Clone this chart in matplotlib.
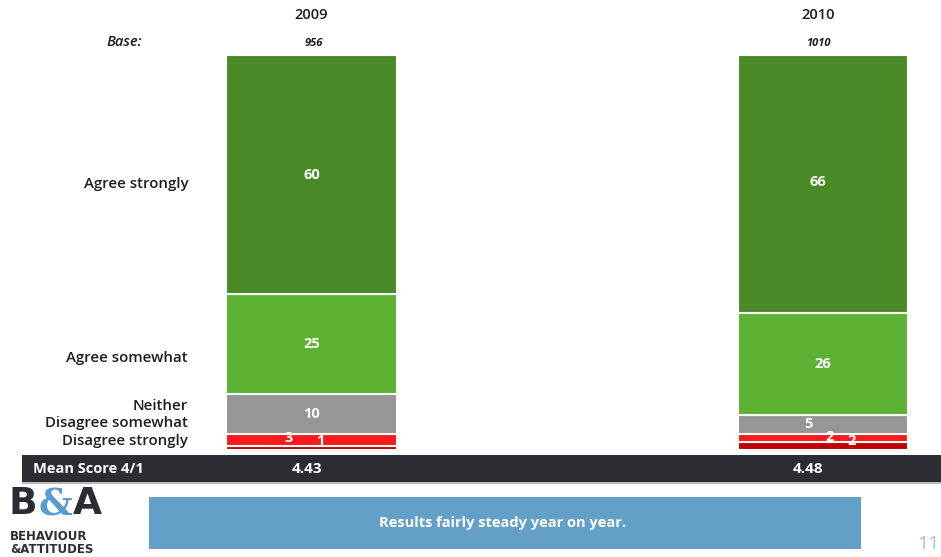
import matplotlib
matplotlib.use("Agg")
import matplotlib.pyplot as plt
import numpy as np
from matplotlib.patches import Rectangle

plt.rcParams['font.family'] = ['Open Sans', 'DejaVu Sans']

years = ["2009", "2010"]
bases = ["956", "1010"]
categories = ["Disagree strongly", "Disagree somewhat", "Neither", "Agree somewhat", "Agree strongly"]
values_2009 = [1, 3, 10, 25, 60]
values_2010 = [2, 2, 5, 26, 66]
mean_scores = ["4.43", "4.48"]
seg_colors = ["#C00000", "#F91B1B", "#969696", "#5DB233", "#4A8A26"]

W, H = 941, 557
fig = plt.figure(figsize=(W / 100, H / 100), dpi=100)

def fx(px):
    return px / W

def fy(py):
    return 1 - py / H

TXT = '#1E1E1E'

# Bars axes
ax = fig.add_axes([0, fy(450), 1, fy(55) - fy(450)])
ax.set_xlim(-0.609, 1.2307)
ax.set_ylim(0, 100)
ax.axis('off')

data = np.array([values_2009, values_2010], dtype=float)
shares = data / data.sum(axis=1, keepdims=True) * 100
xpos = np.arange(len(years))
bw = 0.334
bottoms = np.zeros(len(years))
label_offsets = {  # small x/y nudges for tiny segments (axis units)
    (0, 0): (0.017, 1.9), (0, 1): (-0.045, 0.5),
    (1, 0): (0.055, 1.3), (1, 1): (0.012, 0.4), (1, 2): (-0.029, 0.25),
    (1, 4): (-0.01, 0.5),
}
for j, cat in enumerate(categories):
    h = shares[:, j]
    ax.bar(xpos, h, bw, bottom=bottoms, color=seg_colors[j], edgecolor='white', linewidth=1.5)
    for i in range(len(years)):
        dx, dy = label_offsets.get((i, j), (0, 0))
        yc = bottoms[i] + h[i] / 2 + dy
        ax.text(xpos[i] + dx, yc, str(int(data[i, j])), ha='center', va='center',
                color='white', fontsize=10.5, fontweight='bold')
    bottoms += h

# Category labels on the left
cat_label_y = {"Agree strongly": 184, "Agree somewhat": 358, "Neither": 406,
               "Disagree somewhat": 423, "Disagree strongly": 441}
for cat in categories:
    fig.text(fx(188), fy(cat_label_y[cat]), cat, ha='right', va='center',
             fontsize=10.8, fontweight='semibold', color=TXT)

# Header
for i, (yr, b) in enumerate(zip(years, bases)):
    cx = [311, 818][i]
    fig.text(fx(cx), fy(15), yr, ha='center', va='center', fontsize=10.5,
             fontweight='semibold', color=TXT)
    fig.text(fx(cx + 3 if i == 0 else cx), fy(43), b, ha='center', va='center', fontsize=8,
             style='italic', fontweight='bold', color=TXT)
fig.text(fx(124), fy(42), "Base:", ha='center', va='center', fontsize=10.5,
         style='italic', fontweight='semibold', color=TXT)

# Mean score band
fig.patches.append(Rectangle((fx(22), fy(482)), fx(941) - fx(22), fy(455) - fy(482),
                             transform=fig.transFigure, facecolor='#2B2D32', edgecolor='none'))
fig.patches.append(Rectangle((fx(22), fy(484)), fx(941) - fx(22), fy(482) - fy(484),
                             transform=fig.transFigure, facecolor='#BBBBBB', edgecolor='none'))
fig.text(fx(33), fy(469), "Mean Score 4/1", ha='left', va='center', fontsize=10.5,
         fontweight='bold', color='white')
for i, m in enumerate(mean_scores):
    fig.text(fx([307, 808][i]), fy(469), m, ha='center', va='center', fontsize=11,
             fontweight='bold', color='white')

# Summary box
fig.patches.append(Rectangle((fx(149), fy(549)), fx(861) - fx(149), fy(497) - fy(549),
                             transform=fig.transFigure, facecolor='#63A0C8', edgecolor='none'))
fig.text(fx(503), fy(523), "Results fairly steady year on year.", ha='center', va='center',
         fontsize=10.5, fontweight='bold', color='white')

# Page number
fig.text(fx(928), fy(544), "11", ha='center', va='center', fontsize=14, color='#9DC3E6')

# Logo: letters placed side by side using measured extents
renderer = fig.canvas.get_renderer()
x_cursor = 9
for ch, col, fam in [("B", '#2B2D32', 'DejaVu Sans'), ("&", '#5A9BD0', 'DejaVu Serif'),
                     ("A", '#2B2D32', 'DejaVu Sans')]:
    t = fig.text(fx(x_cursor), fy(486), ch, ha='left', va='top', fontsize=27,
                 fontweight='heavy', color=col, family=fam)
    bb = t.get_window_extent(renderer)
    x_cursor += bb.width + 0.5
fig.text(fx(10), fy(556), "BEHAVIOUR\n&ATTITUDES", ha='left', va='bottom', fontsize=8.5,
         fontweight='heavy', color='#2B2D32', family='DejaVu Sans', linespacing=0.95)

fig.savefig("out.png", dpi=100)
